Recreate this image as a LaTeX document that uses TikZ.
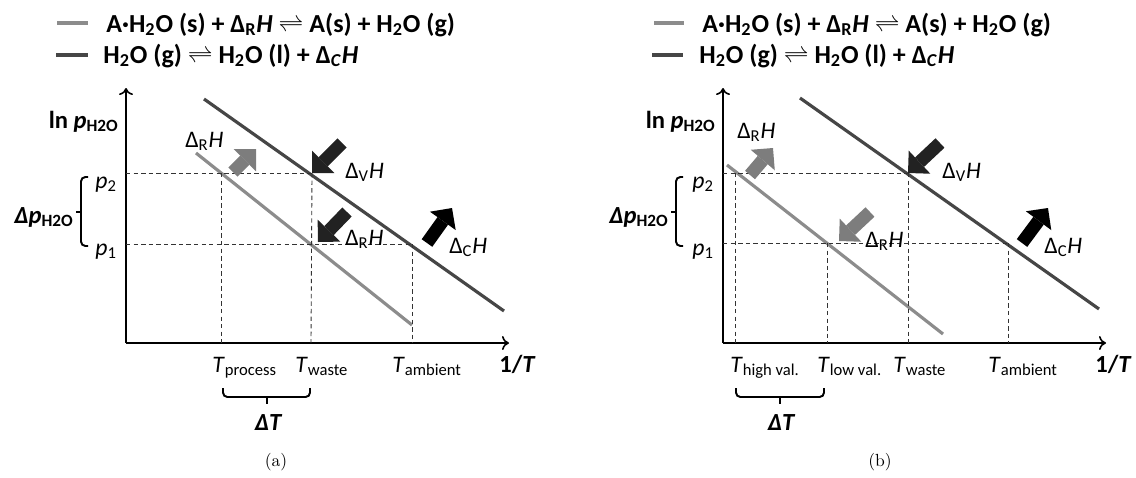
\documentclass[tikz,border=0pt]{standalone}
\usepackage{fontspec}
\newfontfamily\calibri{Carlito}
\usetikzlibrary{arrows.meta}

\definecolor{sorpgray}{RGB}{140,140,140}
\definecolor{conddark}{RGB}{70,70,70}
\definecolor{arrowgray}{RGB}{125,125,125}
\definecolor{arrowdark}{RGB}{34,34,34}

\tikzset{
  lbl/.style={font=\calibri\fontsize{13.5}{16}\selectfont, inner sep=0pt},
  blbl/.style={font=\calibri\bfseries\fontsize{14}{16}\selectfont, inner sep=0pt},
  leg/.style={font=\calibri\bfseries\fontsize{14.8}{17}\selectfont, inner sep=0pt, anchor=base west},
  axis/.style={line width=0.9pt, -{To[length=4pt,width=8pt]}},
  guide/.style={dash pattern=on 2.5pt off 1.8pt, line width=0.5pt, draw=black!80},
  sorpline/.style={line width=1.8pt, draw=sorpgray},
  condline/.style={line width=1.8pt, draw=conddark},
  fatarrow/.style={line width=7.4pt, -{Triangle[length=9pt,width=18pt,line width=0pt]}},
  brk/.style={line width=1.1pt, rounded corners=2.5pt},
}

\begin{document}
\begin{tikzpicture}[x=0.02cm, y=-0.02cm]
    \useasboundingbox (0,0) rectangle (1136,477);

    % ---------- panel (a) ----------
    % legend
    \draw[sorpline] (57,23) -- (88,23);
    \draw[condline] (56,55) -- (88,55);
    \node[leg] (legRa) at (106,32) {A·H\textsubscript{2}O (s) + Δ\textsubscript{R}\textit{H} $\rightleftharpoons$ A(s) + H\textsubscript{2}O (g)};
    \node[leg] (legCa) at (103,63) {H\textsubscript{2}O (g) $\rightleftharpoons$ H\textsubscript{2}O (l) + Δ\textsubscript{\textit{C}}\textit{H}};

    % axes
    \coordinate (Oa) at (126,343);
    \coordinate (Ya) at (126,88);
    \coordinate (Xa) at (509,343);
    \draw[axis] (Oa) -- (Ya);
    \draw[axis] (Oa) -- (Xa);

    % equilibrium lines
    \coordinate (Sa1) at (196,153);
    \coordinate (Sa2) at (412,325);
    \coordinate (Ca1) at (204,99);
    \coordinate (Ca2) at (504,311);
    \draw[sorpline] (Sa1) -- (Sa2);
    \draw[condline] (Ca1) -- (Ca2);

    % guide lines
    \coordinate (p2a) at (126,173);
    \coordinate (p1a) at (126,244);
    \coordinate (Va) at (312,173);
    \coordinate (Ra) at (311,244);
    \coordinate (Aa) at (410,244);
    \draw[guide] (p2a) -- (Va);
    \draw[guide] (p1a) -- (Aa);
    \draw[guide] (221,173) -- (221,343);
    \draw[guide] (Va) -- (311,343);
    \draw[guide] (412,244) -- (412,343);

    % enthalpy arrows
    \draw[fatarrow, arrowgray] (233,172) -- (256,149);
    \draw[fatarrow, arrowdark] (342,143) -- (Va);
    \draw[fatarrow, arrowdark] (347,212) -- (318,242);
    \draw[fatarrow, black] (427,243) -- (452,208);
    \node[lbl, anchor=base west] (dRa1) at (185,147) {Δ\textsubscript{R}\textit{H}};
    \node[lbl, anchor=base west] (dVa) at (345,178) {Δ\textsubscript{V}\textit{H}};
    \node[lbl, anchor=base west] (dRa2) at (345,245) {Δ\textsubscript{R}\textit{H}};
    \node[lbl, anchor=base west] (dCa) at (449,253) {Δ\textsubscript{C}\textit{H}};

    % axis labels
    \node[blbl, anchor=base east] (lnpa) at (119,128) {ln \textit{p}\textsubscript{H2O}};
    \node[lbl, anchor=base west] (p2la) at (95,188) {\textit{p}\textsubscript{2}};
    \node[lbl, anchor=base west] (p1la) at (95,255) {\textit{p}\textsubscript{1}};
    \draw[brk] (88,177) -- (81,177) -- (81,246) -- (88,246);
    \draw[brk, rounded corners=0pt] (81,212) -- (76,212);
    \node[blbl, anchor=east] (dpa) at (74,217) {\itshape Δp\textsubscript{\upshape H2O}};
    \node[lbl, anchor=base west] (Tpa) at (212,372) {\textit{T}\textsubscript{process}};
    \node[lbl, anchor=base west] (Twa) at (295,372) {\textit{T}\textsubscript{waste}};
    \node[lbl, anchor=base west] (Taa) at (392,372) {\textit{T}\textsubscript{ambient}};
    \node[blbl, anchor=base west] (invTa) at (499,372) {1/\textit{T}};
    \draw[brk] (223,388) -- (223,397) -- (310,397) -- (310,388);
    \draw[brk, rounded corners=0pt] (267,397) -- (267,404);
    \node[blbl] (dTa) at (268,423) {\itshape ΔT};
    \node[inner sep=0pt] (capa) at (276,462) {(a)};

    % ---------- panel (b) ----------
    % legend
    \draw[sorpline] (654,23) -- (684,23);
    \draw[condline] (652,55) -- (683,55);
    \node[leg] (legRb) at (702,32) {A·H\textsubscript{2}O (s) + Δ\textsubscript{R}\textit{H} $\rightleftharpoons$ A(s) + H\textsubscript{2}O (g)};
    \node[leg] (legCb) at (699,63) {H\textsubscript{2}O (g) $\rightleftharpoons$ H\textsubscript{2}O (l) + Δ\textsubscript{\textit{C}}\textit{H}};

    % axes
    \coordinate (Ob) at (723,343);
    \coordinate (Yb) at (723,88);
    \coordinate (Xb) at (1106,343);
    \draw[axis] (Ob) -- (Yb);
    \draw[axis] (Ob) -- (Xb);

    % equilibrium lines
    \coordinate (Sb1) at (727,165);
    \coordinate (Sb2) at (943,334);
    \coordinate (Cb1) at (800,98);
    \coordinate (Cb2) at (1099,309);
    \draw[sorpline] (Sb1) -- (Sb2);
    \draw[condline] (Cb1) -- (Cb2);

    % guide lines
    \coordinate (p2b) at (723,173);
    \coordinate (p1b) at (723,243);
    \coordinate (Vb) at (908,173);
    \coordinate (Rb) at (827,243);
    \coordinate (Ab) at (1008,243);
    \draw[guide] (p2b) -- (Vb);
    \draw[guide] (p1b) -- (Ab);
    \draw[guide] (735,173) -- (735,343);
    \draw[guide] (Rb) -- (827,343);
    \draw[guide] (Vb) -- (908,343);
    \draw[guide] (Ab) -- (1008,343);

    % enthalpy arrows
    \draw[fatarrow, arrowgray] (750,175) -- (773,148);
    \draw[fatarrow, arrowdark] (940,143) -- (Vb);
    \draw[fatarrow, arrowgray] (870,212) -- (839,241);
    \draw[fatarrow, black] (1022,243) -- (1048,208);
    \node[lbl, anchor=base west] (dRb1) at (737,138) {Δ\textsubscript{R}\textit{H}};
    \node[lbl, anchor=base west] (dVb) at (942,178) {Δ\textsubscript{V}\textit{H}};
    \node[lbl, anchor=base west] (dRb2) at (865,247) {Δ\textsubscript{R}\textit{H}};
    \node[lbl, anchor=base west] (dCb) at (1044,253) {Δ\textsubscript{C}\textit{H}};

    % axis labels
    \node[blbl, anchor=base east] (lnpb) at (716,128) {ln \textit{p}\textsubscript{H2O}};
    \node[lbl, anchor=base west] (p2lb) at (692,188) {\textit{p}\textsubscript{2}};
    \node[lbl, anchor=base west] (p1lb) at (692,255) {\textit{p}\textsubscript{1}};
    \draw[brk] (683,177) -- (676,177) -- (676,246) -- (683,246);
    \draw[brk, rounded corners=0pt] (676,212) -- (671,212);
    \node[blbl, anchor=east] (dpb) at (669,217) {\itshape Δp\textsubscript{\upshape H2O}};
    \node[lbl, anchor=base west] (Thb) at (730,372) {\textit{T}\textsubscript{high val.}};
    \node[lbl, anchor=base west] (Tlb) at (817,372) {\textit{T}\textsubscript{low val.}};
    \node[lbl, anchor=base west] (Twb) at (893,372) {\textit{T}\textsubscript{waste}};
    \node[lbl, anchor=base west] (Tab) at (988,372) {\textit{T}\textsubscript{ambient}};
    \node[blbl, anchor=base west] (invTb) at (1095,372) {1/\textit{T}};
    \draw[brk] (736,388) -- (736,397) -- (824,397) -- (824,388);
    \draw[brk, rounded corners=0pt] (780,397) -- (780,404);
    \node[blbl] (dTb) at (781,423) {\itshape ΔT};
    \node[inner sep=0pt] (capb) at (880,462) {(b)};
\end{tikzpicture}
\end{document}
